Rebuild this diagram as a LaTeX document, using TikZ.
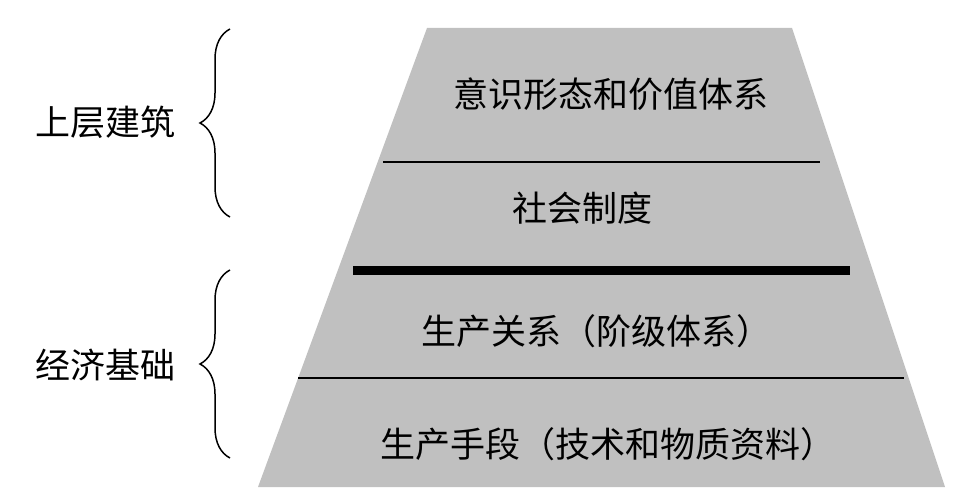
\documentclass[tikz,border=0pt]{standalone}
\usepackage{fontspec}
\newfontfamily\cjk{Noto Sans CJK SC}
\usetikzlibrary{positioning,calc,decorations.pathreplacing}
\definecolor{LayerGray}{RGB}{192,192,192}

\begin{document}
\begin{tikzpicture}[
        x=1pt, y=-1pt,
        % Style for the layer texts
        layer_text/.style={
            font=\cjk\fontsize{35}{35}\selectfont,
            inner sep=0pt,
            text=black
        },
        % Style for the side labels
        side_label/.style={
            layer_text
        },
        % Thin divider
        thin_line/.style={
            draw=black,
            line width=2pt
        },
        % Thick divider
        thick_line/.style={
            draw=black,
            line width=9pt
        },
        % Curly brace
        side_brace/.style={
            draw=black,
            line width=1.5pt,
            decorate,
            decoration={brace, amplitude=30pt, aspect=0.5}
        }
    ]
        \useasboundingbox (0,0) rectangle (959,500);

        % --- TRAPEZOID ---
        \coordinate (TL) at (427,28);
        \coordinate (TR) at (792,28);
        \coordinate (BR) at (945,487);
        \coordinate (BL) at (258,487);
        \fill[LayerGray] (TL) -- (TR) -- (BR) -- (BL) -- cycle;

        % --- DIVIDERS ---
        \coordinate (D1a) at (383,162); \coordinate (D1b) at (820,162);
        \coordinate (D2a) at (353,270); \coordinate (D2b) at (850,270);
        \coordinate (D3a) at (298,378); \coordinate (D3b) at (904,378);
        \draw[thin_line] (D1a) -- (D1b);
        \draw[thick_line] (D2a) -- (D2b);
        \draw[thin_line] (D3a) -- (D3b);

        % --- LAYER TEXTS ---
        \node[layer_text] (ideology) at (611,94) {意识形态和价值体系};
        \node[layer_text] (system) at (582,208) {社会制度};
        \node[layer_text] (relations) at (596,331) {生产关系（阶级体系）};
        \node[layer_text] (means) at (608,444) {生产手段（技术和物质资料）};

        % --- BRACES AND SIDE LABELS ---
        \coordinate (UB1) at (230,217); \coordinate (UB2) at (230,29);
        \coordinate (LB1) at (230,458); \coordinate (LB2) at (230,270);
        \draw[side_brace] (UB1) -- (UB2);
        \draw[side_brace] (LB1) -- (LB2);
        \node[side_label] (super) at (105,122) {上层建筑};
        \node[side_label] (base) at (105,365) {经济基础};

    \end{tikzpicture}
\end{document}
